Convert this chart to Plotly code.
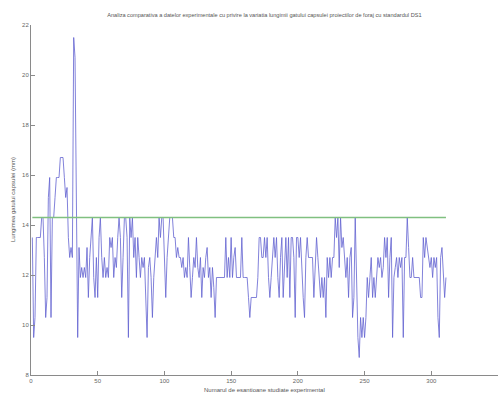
import plotly.graph_objects as go

# Measured neck length per sample (mm), samples 1..311
values = [
    13.5, 9.5, 10.3, 13.5, 13.5, 13.5, 13.5, 14.3, 14.3, 12.7,
    10.3, 11.1, 15.1, 15.9, 10.3, 14.3, 14.3, 15.1, 15.9, 15.9,
    15.9, 16.7, 16.7, 16.7, 15.9, 15.1, 15.5, 13.5, 12.7, 13.1,
    12.7, 21.5, 20.7, 13.5, 9.5, 13.1, 11.9, 12.3, 11.9, 12.3,
    11.9, 13.1, 11.1, 12.7, 13.5, 14.3, 11.9, 11.1, 12.7, 11.1,
    13.5, 14.3, 12.7, 11.9, 12.7, 11.9, 12.3, 11.9, 13.5, 13.1,
    13.5, 11.9, 12.7, 12.3, 13.5, 14.3, 13.5, 11.1, 12.7, 14.3,
    14.3, 13.5, 9.5, 14.3, 13.5, 14.3, 12.7, 13.5, 11.9, 13.5,
    12.7, 11.9, 12.7, 12.3, 12.7, 11.1, 9.5, 12.3, 12.7, 11.9,
    10.3, 11.9, 12.7, 13.5, 12.7, 14.3, 13.5, 14.3, 14.3, 12.7,
    11.1, 12.7, 13.5, 14.3, 14.3, 14.3, 13.5, 13.5, 12.7, 13.1,
    12.7, 12.7, 12.3, 12.7, 11.9, 12.3, 11.9, 13.5, 12.3, 11.1,
    11.9, 12.7, 12.3, 13.5, 12.3, 11.9, 12.7, 11.1, 12.3, 11.9,
    12.7, 13.1, 11.9, 12.3, 11.1, 12.3, 11.5, 10.3, 11.9, 11.9,
    11.9, 11.9, 11.9, 11.9, 11.9, 13.5, 11.9, 12.7, 11.9, 13.5,
    11.9, 12.7, 13.1, 11.9, 11.9, 11.9, 11.9, 13.5, 11.9, 11.9,
    11.9, 11.9, 11.1, 10.3, 11.1, 11.1, 11.1, 11.1, 11.1, 11.9,
    13.5, 13.5, 12.7, 12.7, 13.5, 12.7, 13.5, 11.9, 11.1, 11.9,
    12.7, 13.5, 12.7, 13.5, 11.9, 11.1, 12.7, 13.5, 11.1, 12.7,
    13.5, 11.9, 13.5, 11.1, 13.5, 13.5, 12.7, 10.3, 13.5, 13.5,
    12.7, 13.5, 11.9, 11.1, 10.3, 12.7, 13.5, 12.7, 12.7, 12.7,
    12.7, 11.1, 12.7, 13.5, 12.7, 11.9, 11.1, 11.9, 11.1, 11.9,
    10.3, 12.7, 11.9, 12.7, 11.9, 12.7, 12.7, 14.3, 13.5, 14.3,
    12.3, 14.3, 13.1, 13.5, 12.7, 11.9, 12.7, 11.1, 12.7, 13.1,
    10.3, 11.1, 14.3, 11.9, 9.5, 8.7, 10.3, 9.5, 10.3, 9.5,
    10.3, 11.9, 11.1, 11.9, 12.7, 11.1, 11.9, 11.1, 11.9, 12.7,
    12.3, 12.7, 11.9, 12.3, 13.5, 12.7, 13.5, 11.1, 12.7, 13.5,
    9.5, 11.9, 12.3, 12.7, 11.9, 12.7, 12.3, 12.7, 9.5, 12.7,
    12.7, 14.3, 13.1, 11.9, 11.9, 12.7, 11.9, 11.9, 11.9, 11.9,
    11.9, 11.1, 11.1, 13.5, 12.7, 13.5, 13.1, 12.7, 12.3, 12.7,
    11.9, 12.7, 12.3, 12.7, 10.3, 9.5, 12.7, 13.1, 12.3, 11.1,
    11.9,
]
samples = list(range(1, len(values) + 1))

# Standard DS1 reference level
standard_value = 14.3
standard_x = [1, len(values)]
standard_y = [standard_value, standard_value]

title_text = ("Analiza comparativa a datelor experimentale cu privire la variatia "
              "lungimii gatului capsulei proiectilor de foraj cu standardul DS1")
x_title = "Numarul de esantioane studiate experimental"
y_title = "Lungimea gatului capsulei (mm)"

x_ticks = [0, 50, 100, 150, 200, 250, 300, 350]
y_ticks = [8, 10, 12, 14, 16, 18, 20, 22]

fig = go.Figure()
fig.add_trace(go.Scatter(x=samples, y=values, mode="lines",
                         line=dict(color="#6262d0", width=0.8),
                         showlegend=False, hoverinfo="skip"))
fig.add_trace(go.Scatter(x=standard_x, y=standard_y, mode="lines",
                         line=dict(color="#80c080", width=1.3),
                         showlegend=False, hoverinfo="skip"))

font_family = "Liberation Sans, Arial, sans-serif"
axis_common = dict(showgrid=False, zeroline=False, showline=True,
                   linecolor="#8a8a8a", linewidth=1, mirror=False,
                   ticks="inside", ticklen=4, tickcolor="#8a8a8a", tickwidth=1,
                   tickfont=dict(family=font_family, size=6, color="#666666"))

fig.update_layout(
    width=503, height=398,
    margin=dict(l=31, r=5, t=25, b=23),
    paper_bgcolor="white", plot_bgcolor="white",
    title=dict(text=title_text, x=0.5256, xanchor="center", y=1 - 15 / 398,
               yanchor="middle",
               font=dict(family=font_family, size=5.6, color="#555555")),
    xaxis=dict(range=[0, 350], tickvals=x_ticks, **axis_common),
    yaxis=dict(range=[8, 22], tickvals=y_ticks, **axis_common),
)
fig.add_annotation(text=x_title, xref="paper", yref="paper", x=0.5, y=-15 / 350,
                   xanchor="center", yanchor="middle", showarrow=False,
                   font=dict(family=font_family, size=6, color="#555555"))
fig.add_annotation(text=y_title, xref="paper", yref="paper", x=-18 / 467, y=0.5,
                   xanchor="center", yanchor="middle", showarrow=False, textangle=-90,
                   font=dict(family=font_family, size=6, color="#555555"))

fig.write_html("out.html")
